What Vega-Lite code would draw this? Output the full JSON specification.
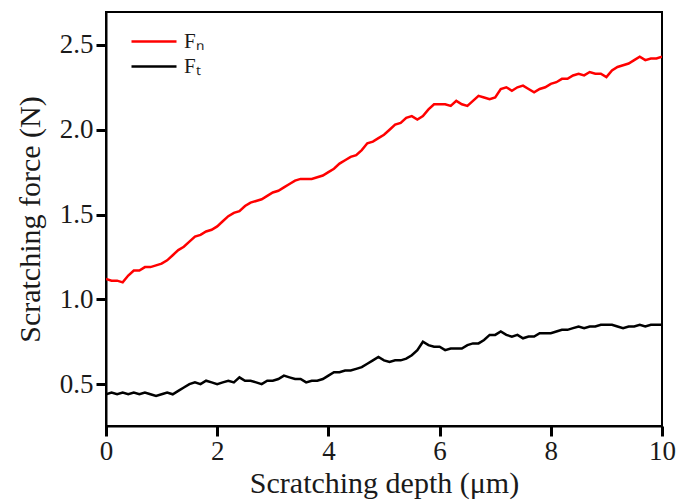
{
  "$schema": "https://vega.github.io/schema/vega-lite/v6.json",
  "width": 556,
  "height": 414,
  "autosize": "none",
  "padding": {"left": 106, "top": 12, "right": 19, "bottom": 76},
  "background": "white",
  "config": {
    "view": {"stroke": "black", "strokeWidth": 2},
    "font": "Liberation Serif",
    "axis": {
      "domainColor": "black", "domainWidth": 2,
      "labelFont": "Liberation Serif", "labelFontSize": 27, "labelColor": "#1a1a1a",
      "titleFont": "Liberation Serif", "titleFontSize": 30, "titleFontWeight": "normal", "titleColor": "#1a1a1a",
      "grid": false
    },
    "legend": {"labelFont": "Liberation Serif", "labelFontSize": 21, "labelColor": "#1a1a1a", "padding": 0}
  },
  "datasets": {
    "names": [{"series": "Fn", "name": "Fₙ"}, {"series": "Ft", "name": "Fₜ"}]
  },
  "data": {"values": [
    {"d":0,"Fn":1.12,"Ft":0.44},{"d":0.1,"Fn":1.11,"Ft":0.45},{"d":0.2,"Fn":1.11,"Ft":0.44},{"d":0.3,"Fn":1.10,"Ft":0.45},
    {"d":0.4,"Fn":1.14,"Ft":0.44},{"d":0.5,"Fn":1.17,"Ft":0.45},{"d":0.6,"Fn":1.17,"Ft":0.44},{"d":0.7,"Fn":1.19,"Ft":0.45},
    {"d":0.8,"Fn":1.19,"Ft":0.44},{"d":0.9,"Fn":1.20,"Ft":0.43},{"d":1.0,"Fn":1.21,"Ft":0.44},{"d":1.1,"Fn":1.23,"Ft":0.45},
    {"d":1.2,"Fn":1.26,"Ft":0.44},{"d":1.3,"Fn":1.29,"Ft":0.46},{"d":1.4,"Fn":1.31,"Ft":0.48},{"d":1.5,"Fn":1.34,"Ft":0.50},
    {"d":1.6,"Fn":1.37,"Ft":0.51},{"d":1.7,"Fn":1.38,"Ft":0.50},{"d":1.8,"Fn":1.40,"Ft":0.52},{"d":1.9,"Fn":1.41,"Ft":0.51},
    {"d":2.0,"Fn":1.43,"Ft":0.50},{"d":2.1,"Fn":1.46,"Ft":0.51},{"d":2.2,"Fn":1.49,"Ft":0.52},{"d":2.3,"Fn":1.51,"Ft":0.51},
    {"d":2.4,"Fn":1.52,"Ft":0.54},{"d":2.5,"Fn":1.55,"Ft":0.52},{"d":2.6,"Fn":1.57,"Ft":0.52},{"d":2.7,"Fn":1.58,"Ft":0.51},
    {"d":2.8,"Fn":1.59,"Ft":0.50},{"d":2.9,"Fn":1.61,"Ft":0.52},{"d":3.0,"Fn":1.63,"Ft":0.52},{"d":3.1,"Fn":1.64,"Ft":0.53},
    {"d":3.2,"Fn":1.66,"Ft":0.55},{"d":3.3,"Fn":1.68,"Ft":0.54},{"d":3.4,"Fn":1.70,"Ft":0.53},{"d":3.5,"Fn":1.71,"Ft":0.53},
    {"d":3.6,"Fn":1.71,"Ft":0.51},{"d":3.7,"Fn":1.71,"Ft":0.52},{"d":3.8,"Fn":1.72,"Ft":0.52},{"d":3.9,"Fn":1.73,"Ft":0.53},
    {"d":4.0,"Fn":1.75,"Ft":0.55},{"d":4.1,"Fn":1.77,"Ft":0.57},{"d":4.2,"Fn":1.80,"Ft":0.57},{"d":4.3,"Fn":1.82,"Ft":0.58},
    {"d":4.4,"Fn":1.84,"Ft":0.58},{"d":4.5,"Fn":1.85,"Ft":0.59},{"d":4.6,"Fn":1.88,"Ft":0.60},{"d":4.7,"Fn":1.92,"Ft":0.62},
    {"d":4.8,"Fn":1.93,"Ft":0.64},{"d":4.9,"Fn":1.95,"Ft":0.66},{"d":5.0,"Fn":1.97,"Ft":0.64},{"d":5.1,"Fn":2.00,"Ft":0.63},
    {"d":5.2,"Fn":2.03,"Ft":0.64},{"d":5.3,"Fn":2.04,"Ft":0.64},{"d":5.4,"Fn":2.07,"Ft":0.65},{"d":5.5,"Fn":2.08,"Ft":0.67},
    {"d":5.6,"Fn":2.06,"Ft":0.70},{"d":5.7,"Fn":2.08,"Ft":0.75},{"d":5.8,"Fn":2.12,"Ft":0.73},{"d":5.9,"Fn":2.15,"Ft":0.72},
    {"d":6.0,"Fn":2.15,"Ft":0.72},{"d":6.1,"Fn":2.15,"Ft":0.70},{"d":6.2,"Fn":2.14,"Ft":0.71},{"d":6.3,"Fn":2.17,"Ft":0.71},
    {"d":6.4,"Fn":2.15,"Ft":0.71},{"d":6.5,"Fn":2.14,"Ft":0.73},{"d":6.6,"Fn":2.17,"Ft":0.74},{"d":6.7,"Fn":2.20,"Ft":0.74},
    {"d":6.8,"Fn":2.19,"Ft":0.76},{"d":6.9,"Fn":2.18,"Ft":0.79},{"d":7.0,"Fn":2.19,"Ft":0.79},{"d":7.1,"Fn":2.24,"Ft":0.81},
    {"d":7.2,"Fn":2.25,"Ft":0.79},{"d":7.3,"Fn":2.23,"Ft":0.78},{"d":7.4,"Fn":2.25,"Ft":0.79},{"d":7.5,"Fn":2.26,"Ft":0.77},
    {"d":7.6,"Fn":2.24,"Ft":0.78},{"d":7.7,"Fn":2.22,"Ft":0.78},{"d":7.8,"Fn":2.24,"Ft":0.80},{"d":7.9,"Fn":2.25,"Ft":0.80},
    {"d":8.0,"Fn":2.27,"Ft":0.80},{"d":8.1,"Fn":2.28,"Ft":0.81},{"d":8.2,"Fn":2.30,"Ft":0.82},{"d":8.3,"Fn":2.30,"Ft":0.82},
    {"d":8.4,"Fn":2.32,"Ft":0.83},{"d":8.5,"Fn":2.33,"Ft":0.84},{"d":8.6,"Fn":2.32,"Ft":0.83},{"d":8.7,"Fn":2.34,"Ft":0.84},
    {"d":8.8,"Fn":2.33,"Ft":0.84},{"d":8.9,"Fn":2.33,"Ft":0.85},{"d":9.0,"Fn":2.31,"Ft":0.85},{"d":9.1,"Fn":2.35,"Ft":0.85},
    {"d":9.2,"Fn":2.37,"Ft":0.84},{"d":9.3,"Fn":2.38,"Ft":0.83},{"d":9.4,"Fn":2.39,"Ft":0.84},{"d":9.5,"Fn":2.41,"Ft":0.84},
    {"d":9.6,"Fn":2.43,"Ft":0.85},{"d":9.7,"Fn":2.41,"Ft":0.84},{"d":9.8,"Fn":2.42,"Ft":0.85},{"d":9.9,"Fn":2.42,"Ft":0.85},
    {"d":10.0,"Fn":2.43,"Ft":0.85}
  ]},
  "transform": [
    {"fold": ["Fn", "Ft"], "as": ["series", "force"]},
    {"lookup": "series", "from": {"data": {"name": "names"}, "key": "series", "fields": ["name"]}}
  ],
  "mark": {"type": "line", "strokeWidth": 2.5, "clip": true},
  "encoding": {
    "x": {
      "field": "d", "type": "quantitative",
      "scale": {"domain": [0, 10], "nice": false},
      "axis": {
        "title": "Scratching depth (μm)",
        "values": [0,2,4,6,8,10],
        "tickColor": "#000000", "tickWidth": 3, "tickSize": 10, "tickOpacity": 1, "ticks": true,
        "labelFlush": false
      }
    },
    "y": {
      "field": "force", "type": "quantitative",
      "scale": {"domain": [0.253, 2.694], "nice": false, "zero": false},
      "axis": {
        "title": "Scratching force (N)",
        "values": [0.5,1.0,1.5,2.0,2.5],
        "tickColor": "#000000", "tickWidth": 3, "tickSize": 10, "tickOpacity": 1, "ticks": true,
        "labelPadding": 3,
        "titlePadding": 14
      }
    },
    "color": {
      "field": "name", "type": "nominal",
      "scale": {"domain": ["Fₙ", "Fₜ"], "range": ["#ff0000", "#000000"]},
      "legend": {
        "title": null,
        "orient": "none",
        "legendX": 24,
        "legendY": 17,
        "symbolType": "stroke",
        "symbolSize": 2025,
        "symbolStrokeWidth": 2.5,
        "clipHeight": 25,
        "rowPadding": 0,
        "labelOffset": 6
      }
    }
  }
}
